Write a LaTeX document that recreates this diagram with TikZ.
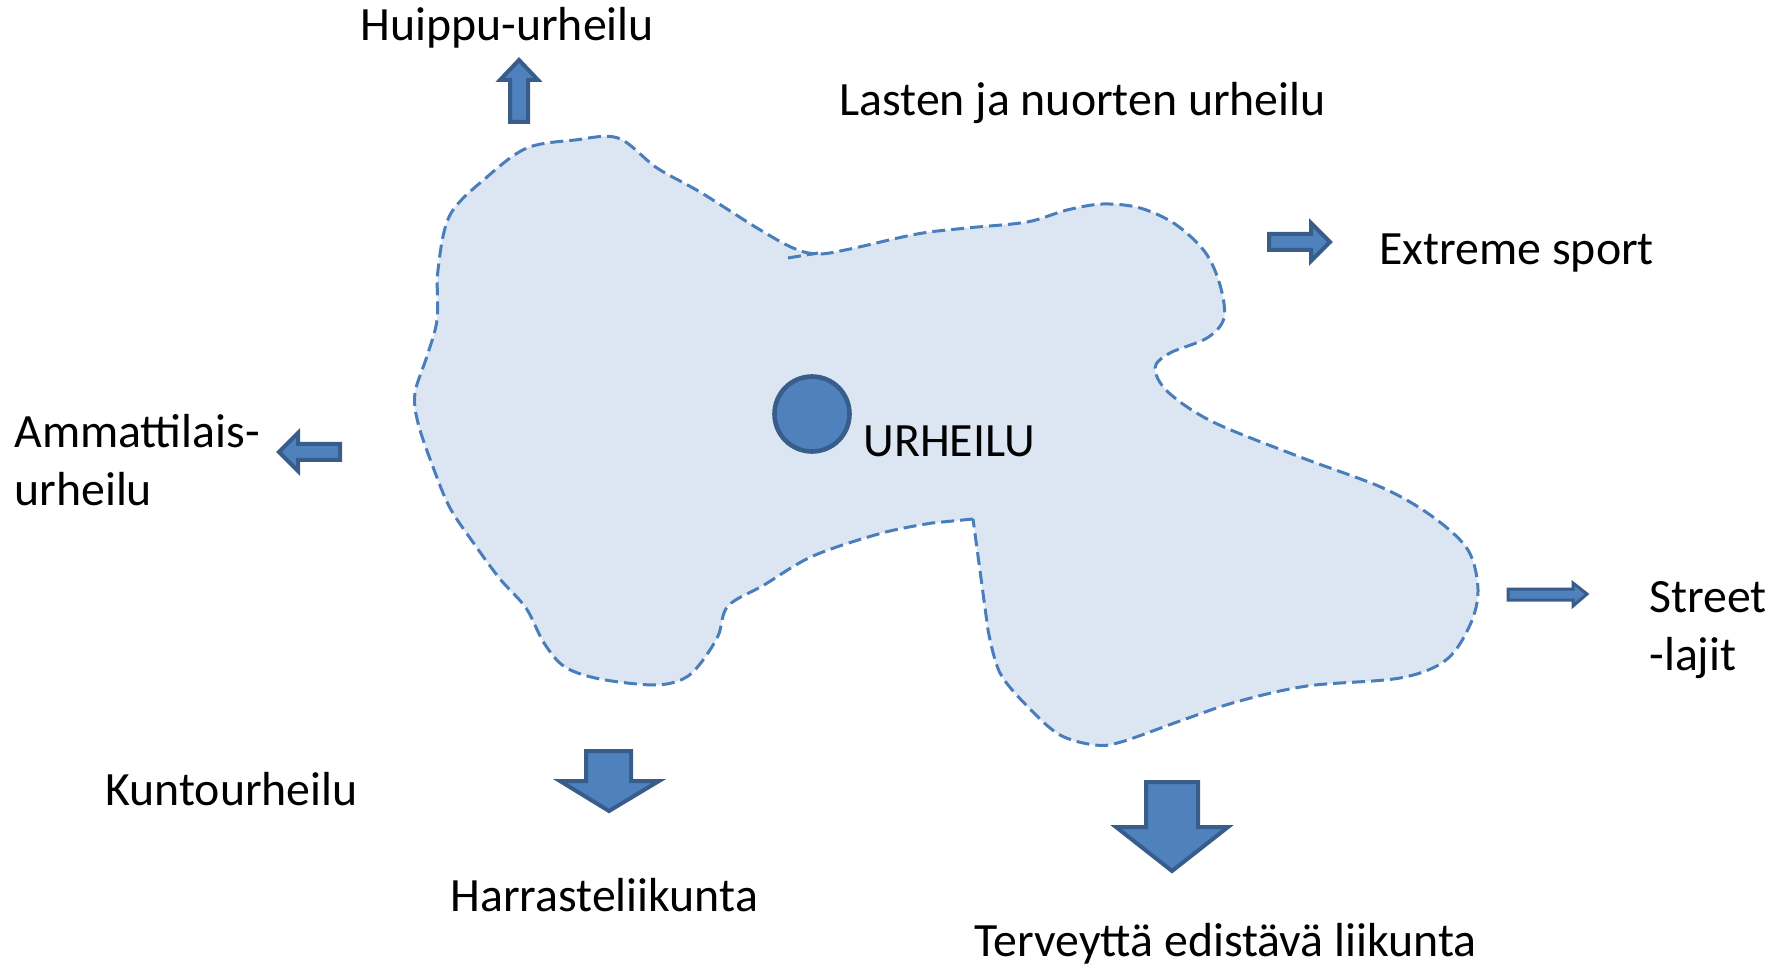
\documentclass[tikz,border=0pt]{standalone}
\usepackage{fontspec}
\setmainfont{Carlito}
\usepackage{tikz}
\usetikzlibrary{calc}
\definecolor{nuolisini}{HTML}{4F81BD}
\definecolor{nuolireuna}{HTML}{385D8A}
\definecolor{alueväri}{HTML}{DCE6F2}
\definecolor{aluereuna}{HTML}{4A7EBB}
\tikzset{
	nuoli/.style={fill=nuolisini, draw=nuolireuna, line width=2pt, line join=miter},
	alue/.style={fill=alueväri, draw=aluereuna, line width=1.5pt, dash pattern=on 6.5pt off 3pt},
	teksti/.style={anchor=base west, inner sep=0pt, align=left}
}

\begin{document}
\begin{tikzpicture}[x=0.5pt, y=-0.5pt]
			%%%%% START %%%%%
			\useasboundingbox (0, 0) rectangle (1786, 967);
			
			% urheilun alue
			\filldraw[alue] (973, 519) -- plot[smooth, tension=0.55] coordinates {
				(932, 523) (882, 533) (813, 556) (764, 585) (728, 606) (718, 636) (700, 664) (683, 679)
				(654, 685) (600, 679) (565, 667) (544, 643) (526, 608) (500, 579) (475, 545) (450, 508)
				(433, 467) (418, 423) (415, 393) (427, 356) (437, 320) (438, 270) (450, 215) (487, 177)
				(527, 148) (575, 140) (618, 138) (657, 168) (700, 192) (757, 228) (793, 248) (818, 254)
				(850, 249) (917, 234) (967, 228) (1027, 222) (1067, 210) (1103, 204) (1140, 208) (1175, 224)
				(1205, 252) (1220, 285) (1224, 318) (1207, 338) (1170, 353) (1155, 368) (1168, 392)
				(1213, 422) (1300, 457) (1383, 488) (1433, 517) (1468, 550) (1478, 590) (1470, 625)
				(1446, 660) (1400, 678) (1307, 686) (1236, 702) (1180, 721) (1121, 742) (1095, 745)
				(1060, 735) (1029, 708) (1000, 673) (988, 630)} -- cycle;
			\draw[alue, fill=none] (788, 258) -- (818, 253);
			
			% keskus
			\node[circle, fill=nuolisini, draw=nuolireuna, line width=2.3pt, minimum size=37.5pt, inner sep=0pt] (ydin) at (812, 414) {};
			
			% nuolet
			\draw[nuoli] (510, 122) -- (510, 80) -- (500, 80) -- (519, 60) -- (538, 80) -- (528, 80) -- (528, 122) -- cycle;
			\draw[nuoli] (1269, 234) -- (1311, 234) -- (1311, 223) -- (1330, 242) -- (1311, 261) -- (1311, 250) -- (1269, 250) -- cycle;
			\draw[nuoli] (340, 444) -- (298, 444) -- (298, 433) -- (279, 452) -- (298, 471) -- (298, 460) -- (340, 460) -- cycle;
			\draw[nuoli] (586, 751) -- (631, 751) -- (631, 781) -- (659, 781) -- (609, 811) -- (560, 781) -- (586, 781) -- cycle;
			\draw[nuoli] (1146, 782) -- (1198, 782) -- (1198, 827) -- (1228, 827) -- (1172, 871) -- (1116, 827) -- (1146, 827) -- cycle;
			\draw[nuoli, line width=1.5pt] (1508, 589) -- (1573, 589) -- (1573, 583) -- (1587, 594) -- (1573, 606) -- (1573, 600) -- (1508, 600) -- cycle;
			
			% tekstit
			\begin{scope}[font=\fontsize{23.9}{28.8}\selectfont]
				\node[teksti] (huippu) at (360, 41) {Huippu-urheilu};
				\node[teksti] (lasten) at (839, 116) {Lasten ja nuorten urheilu};
				\node[teksti] (extreme) at (1379, 265) {Extreme sport};
				\node[teksti] (ammatti) at (14, 505) {Ammattilais-\\urheilu};
				\node[teksti] (urheilu) at (863, 457) {URHEILU};
				\node[teksti] (street) at (1649, 670) {Street\\-lajit};
				\node[teksti] (kunto) at (105, 805) {Kuntourheilu};
				\node[teksti] (harraste) at (450, 911) {Harrasteliikunta};
				\node[teksti] (terveys) at (974, 956) {Terveyttä edistävä liikunta};
			\end{scope}
			
			%%%%% END %%%%%
\end{tikzpicture}
\end{document}
